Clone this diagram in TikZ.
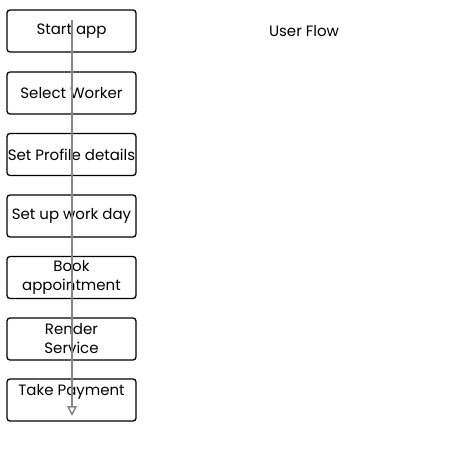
\documentclass[tikz,border=0pt]{standalone}
\usepackage{fontspec}
\setmainfont{Poppins}
\usetikzlibrary{arrows.meta}
\definecolor{flowgray}{RGB}{135,135,135}
\tikzset{
  textfont/.style={font=\fontsize{15}{19}\selectfont},
  stepbox/.style={draw=black, line width=1.3pt, rounded corners=3pt, minimum width=129pt, minimum height=42pt, inner sep=0pt, align=center, textfont},
  flowline/.style={draw=flowgray, line width=1.5pt, -{Triangle[open, length=10pt, width=10pt]}}
}
\begin{document}
\begin{tikzpicture}[x=1pt,y=-1pt]
\useasboundingbox (0,0) rectangle (450,450);
\node[stepbox] (s1) at (71.5,31) {Start app};
\node[stepbox] (s2) at (71.5,93) {Select Worker};
\node[stepbox] (s3) at (71.5,154.5) {Set Profile details};
\node[stepbox] (s4) at (71.5,216) {Set up work day};
\node[stepbox] (s5) at (71.5,277.5) {Book\\appointment};
\node[stepbox] (s6) at (71.5,339) {Render\\Service};
\node[stepbox] (s7) at (71.5,400) {};
\node[textfont, anchor=center] (t7) at (71.5,392) {Take Payment};
\node[textfont] (title) at (304,31) {User Flow};
\coordinate (astart) at (72,20);
\coordinate (aend) at (72,416);
\draw[flowline] (astart) -- (aend);
\end{tikzpicture}
\end{document}
